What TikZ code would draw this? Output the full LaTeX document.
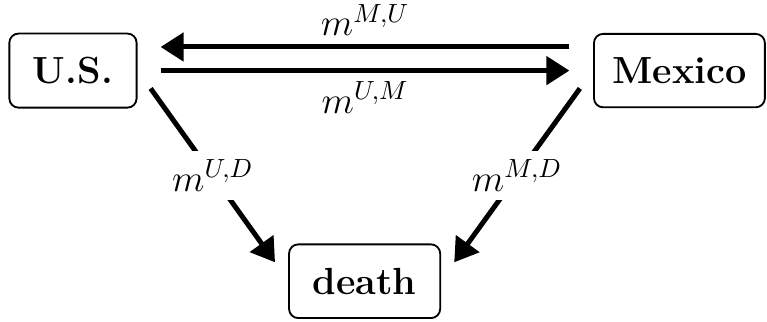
\documentclass[tikz,border=0pt]{standalone}
\usepackage{amsmath, amsfonts}
\usepackage{xcolor}
\usepackage{tikz}
\usetikzlibrary{shapes.geometric, arrows.meta, positioning, calc}
\tikzstyle{place} = [rectangle, rounded corners=3.5pt, inner sep=9pt, text centered, draw=black, line width=0.7pt, font=\Large\bfseries]
\tikzstyle{flow} = [line width=1.9pt, -{Triangle[length=8.8pt, width=10.7pt]}]
\tikzstyle{rate} = [font=\Large]

\begin{document}
\begin{tikzpicture}[node distance=2cm]
        \useasboundingbox (-27.8pt,26.9pt) rectangle (264.4pt,-95.4pt);
        \node (us) [place] at (0,0) {U.S.};
        \node (mexico) [place, inner xsep=7pt, right of=us, xshift=6.12cm] {Mexico};
        \node (death) [place, below of=us, xshift=3.905cm, yshift=-0.82cm] {death};

        \draw [flow, shorten <=9pt, shorten >=8.8pt] ([yshift=9pt]mexico.west) -- node[rate, above] {$m^{M,U}$} ([yshift=9pt]us.east);
        \draw [flow, shorten <=8.8pt, shorten >=9pt] (us.east) -- node[rate, below] {$m^{U,M}$} (mexico.west);
        \draw [flow] ([shift={(5pt,-6.8pt)}]us.east) -- node[rate, fill=white] {$m^{U,D}$} ([shift={(-5pt,7.2pt)}]death.west);
        \draw [flow] ([shift={(-5pt,-6.8pt)}]mexico.west) -- node[rate, fill=white] {$m^{M,D}$} ([shift={(5pt,7.2pt)}]death.east);
    \end{tikzpicture}
\end{document}
